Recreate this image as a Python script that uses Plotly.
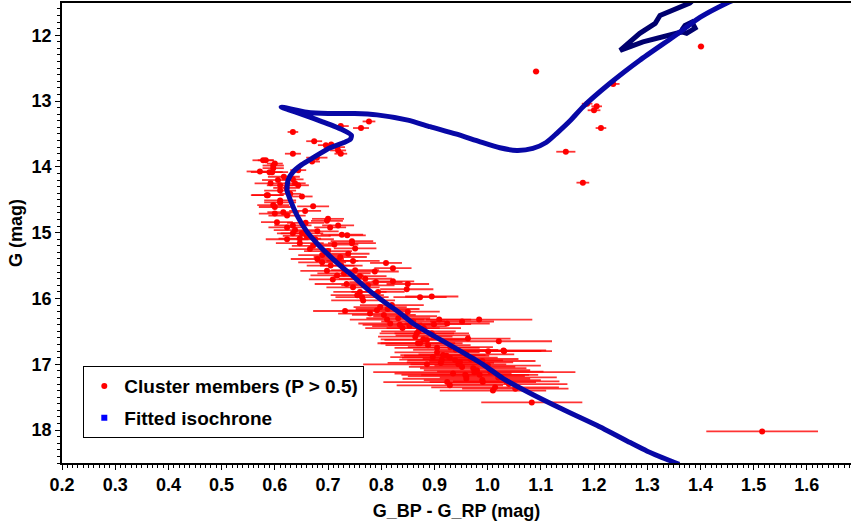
import plotly.graph_objects as go

# ---- Cluster members (P > 0.5): colour, G magnitude, colour error ----
bp_rp = [
    1.516, 1.401, 1.091, 1.236, 1.187, 1.205, 1.200, 1.213, 1.147, 1.179,
    0.634, 0.777, 0.762, 0.724, 0.674, 0.696, 0.706, 0.717, 0.719, 0.724,
    0.634, 0.670, 0.679, 0.583, 0.600, 0.597, 0.572, 0.595, 0.644, 0.606,
    0.634, 0.638, 0.610, 0.644, 0.587, 0.610, 0.629, 0.651, 0.610, 0.600,
    0.672, 0.578, 0.597, 0.590, 0.585, 0.597, 0.616, 0.604, 0.623, 0.634,
    0.623, 0.617, 0.622, 0.592,
    0.610, 0.657, 0.600, 0.623, 0.700, 0.698, 0.719, 0.704, 0.634, 0.638,
    0.651, 0.726, 0.736, 0.647, 0.676, 0.647, 0.745, 0.745, 0.666, 0.751,
    0.738, 0.689, 0.723, 0.689, 0.717, 0.747, 0.809, 0.822, 0.698, 0.751,
    0.788, 0.717, 0.709, 0.770, 0.822, 0.747, 0.850, 0.848, 0.794, 0.764,
    0.660, 0.672, 0.700, 0.680, 0.705, 0.730, 0.760, 0.735, 0.775, 0.790,
    0.658, 0.680, 0.712, 0.725, 0.760,
    0.895, 0.873, 0.755, 0.766, 0.732, 0.792, 0.798, 0.779, 0.845, 0.811,
    0.817, 0.909, 0.952, 0.984, 0.899, 0.835, 0.924, 0.867, 0.895, 0.886,
    0.873, 0.963, 1.021, 0.869, 0.888, 0.864, 0.897, 0.879, 1.001, 1.031,
    0.916, 0.929, 0.914, 0.939, 0.886, 0.952, 0.973, 1.005, 0.975, 0.924,
    0.929, 0.991, 1.014, 1.052, 1.083, 0.948, 0.980, 0.897, 0.923, 1.030,
    0.820, 0.850, 0.805, 0.840, 0.860, 0.880, 0.905, 0.940, 0.960, 0.990,
    1.000, 0.960, 1.020, 0.960, 1.040,
    0.912, 0.935, 0.958, 0.990, 1.010, 0.945, 0.968, 0.905, 0.930, 0.985,
    1.035, 0.870, 0.853, 0.832, 0.812,
]
g_mag = [
    18.02, 12.17, 12.55, 12.74, 13.04, 13.08, 13.14, 13.41, 13.77, 14.24,
    13.47, 13.31, 13.41, 13.38, 13.61, 13.67, 13.66, 13.70, 13.75, 13.80,
    13.80, 13.92, 13.86, 13.90, 13.95, 14.02, 14.07, 14.08, 14.05, 14.20,
    14.19, 14.25, 14.28, 14.28, 14.43, 14.36, 14.41, 14.45, 14.51, 14.61,
    14.60, 13.90, 13.98, 14.08, 14.43, 14.58, 14.69, 14.84, 14.92, 15.01,
    15.10, 14.15, 14.32, 14.25,
    14.54, 14.67, 14.71, 14.74, 14.79, 14.82, 14.89, 14.92, 14.89, 14.96,
    15.01, 15.03, 15.04, 15.09, 15.10, 15.16, 15.13, 15.16, 15.25, 15.24,
    15.32, 15.34, 15.37, 15.45, 15.43, 15.43, 15.46, 15.54, 15.58, 15.57,
    15.59, 15.65, 15.71, 15.70, 15.74, 15.83, 15.78, 15.86, 15.90, 15.98,
    15.05, 15.20, 15.28, 15.40, 15.50, 15.62, 15.66, 15.78, 15.80, 15.75,
    14.85, 14.98, 15.18, 15.50, 15.90,
    15.97, 15.98, 15.95, 16.03, 16.19, 16.18, 16.13, 16.23, 16.27, 16.32,
    16.38, 16.32, 16.35, 16.32, 16.39, 16.40, 16.38, 16.53, 16.53, 16.63,
    16.68, 16.61, 16.65, 16.68, 16.71, 16.58, 16.56, 16.62, 16.80, 16.80,
    16.86, 16.90, 16.93, 16.94, 17.00, 17.04, 17.06, 17.11, 17.12, 17.27,
    17.32, 17.27, 17.35, 17.37, 17.58, 16.97, 17.09, 16.89, 16.87, 16.79,
    16.10, 16.20, 16.25, 16.45, 16.35, 16.45, 16.75, 16.78, 16.85, 16.95,
    17.02, 17.18, 17.20, 17.22, 17.30,
    16.98, 17.14, 17.16, 17.24, 17.40, 17.00, 16.92, 16.82, 16.74, 17.16,
    17.26, 16.50, 16.42, 16.30, 16.16,
]
bp_rp_err = [
    0.105, 0.006, 0.006, 0.012, 0.010, 0.010, 0.012, 0.010, 0.018, 0.012,
    0.010, 0.012, 0.015, 0.015, 0.015, 0.015, 0.012, 0.015, 0.015, 0.012,
    0.015, 0.015, 0.020, 0.015, 0.015, 0.020, 0.025, 0.020, 0.015, 0.030,
    0.020, 0.020, 0.025, 0.020, 0.030, 0.030, 0.020, 0.020, 0.030, 0.030,
    0.030, 0.020, 0.020, 0.035, 0.030, 0.030, 0.030, 0.030, 0.035, 0.030,
    0.040, 0.030, 0.025, 0.030,
    0.030, 0.030, 0.030, 0.035, 0.030, 0.030, 0.030, 0.030, 0.035, 0.040,
    0.040, 0.040, 0.035, 0.040, 0.035, 0.045, 0.040, 0.045, 0.040, 0.040,
    0.040, 0.045, 0.050, 0.045, 0.040, 0.050, 0.030, 0.035, 0.050, 0.045,
    0.045, 0.050, 0.045, 0.050, 0.040, 0.050, 0.040, 0.050, 0.050, 0.050,
    0.045, 0.040, 0.045, 0.050, 0.045, 0.050, 0.050, 0.060, 0.050, 0.050,
    0.035, 0.040, 0.045, 0.040, 0.050,
    0.050, 0.050, 0.050, 0.060, 0.060, 0.060, 0.050, 0.060, 0.060, 0.070,
    0.060, 0.060, 0.060, 0.100, 0.070, 0.070, 0.080, 0.070, 0.070, 0.080,
    0.080, 0.080, 0.100, 0.070, 0.080, 0.070, 0.070, 0.080, 0.100, 0.090,
    0.080, 0.090, 0.080, 0.090, 0.120, 0.100, 0.100, 0.100, 0.190, 0.120,
    0.100, 0.100, 0.120, 0.100, 0.095, 0.100, 0.100, 0.080, 0.080, 0.080,
    0.060, 0.060, 0.060, 0.070, 0.060, 0.070, 0.080, 0.080, 0.090, 0.100,
    0.100, 0.110, 0.110, 0.120, 0.110,
    0.100, 0.110, 0.120, 0.110, 0.100, 0.090, 0.090, 0.080, 0.080, 0.110,
    0.100, 0.070, 0.070, 0.060, 0.060,
]

# ---- Fitted isochrone (main sequence -> turnoff -> subgiant -> RGB) ----
iso_bp_rp = [
    1.360, 1.300, 1.268, 1.206, 1.140, 1.080, 1.030, 0.991, 0.945, 0.897,
    0.860, 0.835, 0.800, 0.773, 0.741, 0.723, 0.700, 0.679, 0.660, 0.642,
    0.630, 0.623, 0.625, 0.634, 0.650, 0.672, 0.704, 0.730, 0.742, 0.744,
    0.728, 0.691, 0.650, 0.625, 0.612, 0.660, 0.700, 0.750, 0.792, 0.850,
    0.892, 0.940, 0.986, 1.023, 1.055, 1.085, 1.110, 1.130, 1.155, 1.179,
    1.230, 1.286, 1.348, 1.370, 1.399, 1.450, 1.470,
]
iso_g = [
    18.52, 18.32, 18.19, 17.93, 17.68, 17.44, 17.22, 17.00, 16.78, 16.56,
    16.38, 16.22, 16.02, 15.85, 15.62, 15.50, 15.33, 15.16, 14.98, 14.74,
    14.52, 14.36, 14.20, 14.08, 13.97, 13.86, 13.71, 13.63, 13.58, 13.52,
    13.44, 13.32, 13.20, 13.13, 13.09, 13.17, 13.19, 13.19, 13.21, 13.29,
    13.39, 13.50, 13.62, 13.71, 13.75, 13.72, 13.63, 13.49, 13.30, 13.09,
    12.73, 12.38, 12.03, 11.90, 11.73, 11.51, 11.44,
]
# later (helium-burning) loop of the isochrone
loop_bp_rp = [1.390, 1.380, 1.324, 1.315, 1.286, 1.249, 1.292, 1.337, 1.365,
              1.374, 1.390, 1.384, 1.371, 1.365]
loop_g = [11.44, 11.51, 11.70, 11.82, 11.97, 12.23, 12.10, 12.00, 11.95,
          11.97, 11.89, 11.80, 11.85, 11.92]

FONT = "Liberation Sans, Arial, sans-serif"

fig = go.Figure()

fig.add_trace(go.Scatter(
    x=bp_rp, y=g_mag, mode="markers",
    name="Cluster members (P > 0.5)",
    legendgroup="a",
    marker=dict(color="#ff0000", size=6, symbol="circle"),
    error_x=dict(type="data", array=bp_rp_err, color="rgba(255,0,0,0.8)",
                 thickness=1.8, width=0),
))
fig.add_trace(go.Scatter(
    x=loop_bp_rp, y=loop_g, mode="lines", showlegend=False,
    line=dict(color="#00006e", width=5), hoverinfo="skip",
))
fig.add_trace(go.Scatter(
    x=iso_bp_rp, y=iso_g, mode="lines", showlegend=False,
    line=dict(color="#0808a6", width=5, shape="spline", smoothing=0.6),
    hoverinfo="skip",
))
# legend proxy for the isochrone (shown as blue square points)
fig.add_trace(go.Scatter(
    x=[None], y=[None], mode="markers", name="Fitted isochrone",
    legendgroup="b",
    marker=dict(color="#0000ff", size=6, symbol="square"),
))

axis_common = dict(
    showgrid=False, zeroline=False, showline=True, linecolor="black",
    linewidth=1.5, ticks="outside", ticklen=5, tickwidth=1.2, tickcolor="black",
    tickfont=dict(family=FONT, size=18, color="black", weight="bold"),
)

fig.update_layout(
    width=851, height=525,
    margin=dict(l=62, r=0, t=3, b=62),
    paper_bgcolor="white", plot_bgcolor="white",
    showlegend=True,
    legend=dict(
        x=0.027, y=0.054, xanchor="left", yanchor="bottom",
        bgcolor="white", bordercolor="black", borderwidth=1,
        font=dict(family=FONT, size=19, color="black", weight="bold"),
        tracegroupgap=4,
    ),
    xaxis=dict(
        range=[0.2, 1.683], dtick=0.1, tickformat=".1f", mirror=True,
        minor=dict(dtick=0.01, ticks="outside", ticklen=3, tickcolor="black"),
        title=dict(text="<b>G_BP - G_RP (mag)</b>",
                   font=dict(family=FONT, size=18, color="black"), standoff=10),
        **axis_common,
    ),
    yaxis=dict(
        range=[18.5, 11.51], dtick=1,
        minor=dict(dtick=0.1, ticks="outside", ticklen=3, tickcolor="black"),
        title=dict(text="<b>G (mag)</b>",
                   font=dict(family=FONT, size=18, color="black"), standoff=4),
        **axis_common,
    ),
)

fig.write_html("out.html")
